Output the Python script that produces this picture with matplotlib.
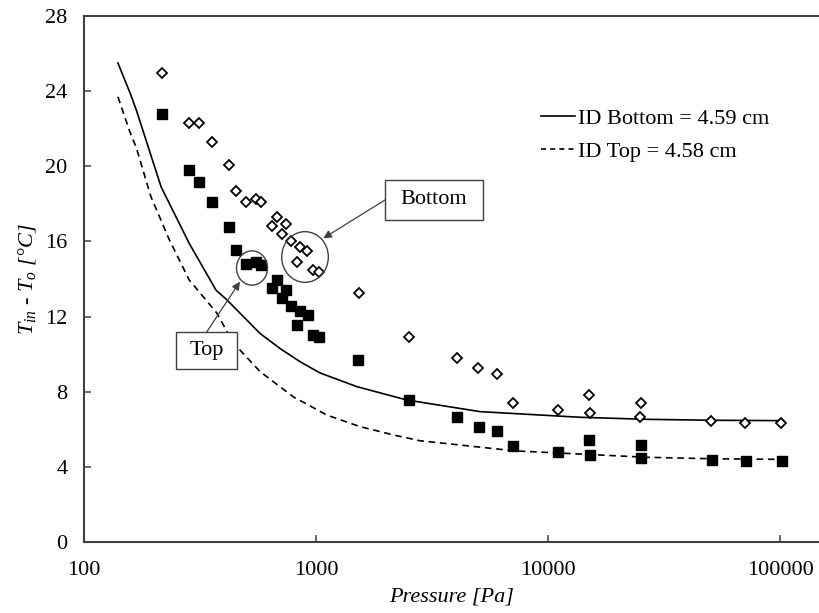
import matplotlib
matplotlib.use("Agg")
import matplotlib.pyplot as plt
from matplotlib.patches import Ellipse, Rectangle
from matplotlib.lines import Line2D

plt.rcParams['font.family'] = ['Liberation Serif', 'DejaVu Serif']
plt.rcParams['mathtext.fontset'] = 'custom'
plt.rcParams['mathtext.rm'] = 'Liberation Serif'
plt.rcParams['mathtext.it'] = 'Liberation Serif:italic'

# Measured points - top tube (filled squares)
top_p = [217, 284, 312, 357, 423, 450, 497, 549, 579, 677, 644, 742, 710, 778,
         849, 921, 830, 973, 1030, 1517, 2509, 4053, 5042, 6046, 7066, 11079,
         15070, 15175, 25240, 25100, 50770, 71100, 102000]
top_dt = [22.77, 19.79, 19.18, 18.08, 16.79, 15.57, 14.82, 14.90, 14.72, 13.93,
          13.51, 13.43, 13.01, 12.56, 12.27, 12.08, 11.57, 11.04, 10.90, 9.69,
          7.56, 6.64, 6.12, 5.91, 5.13, 4.78, 5.45, 4.63, 5.18, 4.46, 4.38,
          4.31, 4.30]

# Measured points - bottom tube (open diamonds)
bot_p = [217, 284, 312, 357, 423, 450, 497, 549, 579, 677, 644, 742, 710, 778,
         849, 915, 826, 968, 1030, 1538, 2504, 4035, 5013, 6016, 7037, 11006,
         15008, 15110, 25200, 25000, 50400, 70900, 101400]
bot_dt = [24.98, 22.29, 22.32, 21.29, 20.08, 18.68, 18.08, 18.25, 18.08, 17.30,
          16.82, 16.93, 16.38, 16.04, 15.69, 15.49, 14.90, 14.48, 14.37, 13.24,
          10.91, 9.78, 9.28, 8.93, 7.42, 7.04, 7.82, 6.87, 7.38, 6.64, 6.42,
          6.33, 6.33]

# Model curves
id_bot_p = [140, 158, 168, 215, 284, 371, 412, 574, 700, 853, 1040, 1500,
            2460, 5090, 13700, 26600, 51600, 100000]
id_bot_dt = [25.5, 23.9, 23.0, 18.9, 15.9, 13.4, 12.9, 11.1, 10.3, 9.6, 9.0,
             8.27, 7.56, 6.94, 6.64, 6.53, 6.48, 6.46]

id_top_p = [140, 158, 168, 194, 233, 284, 373, 440, 574, 798, 1112, 1549,
            2154, 2808, 7200, 26600, 51600, 100000]
id_top_dt = [23.7, 21.8, 21.0, 18.4, 16.1, 13.95, 12.2, 10.6, 9.07, 7.73,
             6.76, 6.14, 5.70, 5.39, 4.85, 4.51, 4.43, 4.40]

xticks = [100, 1000, 10000, 100000]
yticks = [0, 4, 8, 12, 16, 20, 24, 28]

axis_col = '#404040'
fs = 16

fig = plt.figure(figsize=(8.19, 6.13), dpi=100)
ax = fig.add_axes([84 / 819, 71 / 613, 735 / 819, 526 / 613])

ax.plot(id_bot_p, id_bot_dt, color='black', lw=1.2, zorder=2)
ax.plot(id_top_p, id_top_dt, color='black', lw=1.2, dashes=(4, 2.8), zorder=2)
ax.plot(bot_p, bot_dt, linestyle='none', marker='D', ms=5.6, mfc='white',
        mec='black', mew=1.3, zorder=3)
ax.plot(top_p, top_dt, linestyle='none', marker='s', ms=6.6, mfc='black',
        mec='black', zorder=3)

ax.set_xscale('log')
ax.set_xlim(100, 147200)
ax.set_ylim(0, 28)
ax.set_xticks(xticks)
ax.set_xticklabels([str(v) for v in xticks])
ax.minorticks_off()
ax.set_yticks(yticks)

for side in ['left', 'bottom', 'top']:
    ax.spines[side].set_color(axis_col)
    ax.spines[side].set_linewidth(1.5)
ax.spines['right'].set_visible(False)
ax.tick_params(axis='both', direction='in', length=5, width=1.1,
               color=axis_col, labelsize=fs, pad=12)
ax.tick_params(axis='x', pad=14)

ax.set_xlabel('Pressure [Pa]', fontsize=fs, style='italic', labelpad=5)
ax.set_ylabel(r'$T_{in}$ - $T_o$ [°C]', fontsize=fs, style='italic', labelpad=5)

# legend
handles = [Line2D([], [], color='black', lw=1.2),
           Line2D([], [], color='black', lw=1.2, dashes=(3, 2.5))]
ax.legend(handles, ['ID Bottom = 4.59 cm', 'ID Top = 4.58 cm'],
          frameon=False, fontsize=fs, handlelength=1.55, handletextpad=0.1,
          labelspacing=0.575, loc='upper left',
          bbox_to_anchor=((521 - 84) / 735, (542 - 88) / 526))

# circles around the highlighted points
ax.add_patch(Ellipse((0.2286, 0.5209), 0.0422, 0.0652, transform=ax.transAxes,
                     fill=False, ec=axis_col, lw=1.0, zorder=4))
ax.add_patch(Ellipse((0.3007, 0.5418), 0.0635, 0.0964, transform=ax.transAxes,
                     fill=False, ec=axis_col, lw=1.0, zorder=4))

# labelled boxes with arrows
ax.add_patch(Rectangle((0.4095, 0.6122), 0.1334, 0.0760, transform=ax.transAxes,
                       fc='white', ec=axis_col, lw=1.0, zorder=4))
ax.text(0.4762, 0.6502, 'Bottom', transform=ax.transAxes, fontsize=fs,
        ha='center', va='center', zorder=5)
ax.annotate('', xy=(0.3256, 0.5774), xycoords='axes fraction',
            xytext=(0.4095, 0.6502), textcoords='axes fraction',
            arrowprops=dict(arrowstyle='-|>', color=axis_col, lw=0.9,
                            mutation_scale=12, shrinkA=0, shrinkB=0))

ax.add_patch(Rectangle((0.1252, 0.3289), 0.0830, 0.0703, transform=ax.transAxes,
                       fc='white', ec=axis_col, lw=1.0, zorder=4))
ax.text(0.1667, 0.3641, 'Top', transform=ax.transAxes, fontsize=fs,
        ha='center', va='center', zorder=5)
ax.annotate('', xy=(0.2122, 0.4949), xycoords='axes fraction',
            xytext=(0.1669, 0.3992), textcoords='axes fraction',
            arrowprops=dict(arrowstyle='-|>', color=axis_col, lw=0.9,
                            mutation_scale=12, shrinkA=0, shrinkB=0))

fig.savefig('out.png', dpi=100)
